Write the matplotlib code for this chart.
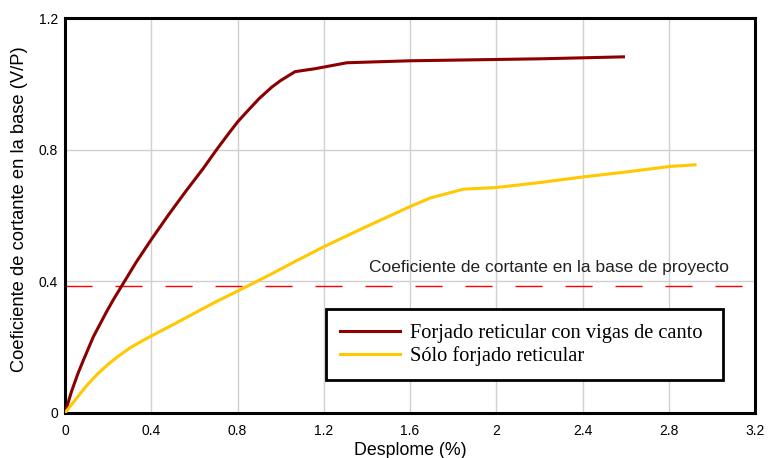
import matplotlib
matplotlib.use("Agg")
import matplotlib.pyplot as plt
from matplotlib.lines import Line2D

# Data
x_vigas = [0, 0.03, 0.06, 0.085, 0.131, 0.193, 0.224, 0.263, 0.33, 0.399, 0.48, 0.564, 0.64, 0.703, 0.76, 0.80,
           0.843, 0.90, 0.959, 1.0, 1.067, 1.16, 1.307, 1.45, 1.60, 1.80, 2.0, 2.2, 2.40, 2.59]
y_vigas = [0, 0.065, 0.12, 0.16, 0.231, 0.308, 0.344, 0.386, 0.458, 0.526, 0.602, 0.677, 0.742, 0.80, 0.85, 0.884,
           0.915, 0.955, 0.99, 1.01, 1.037, 1.046, 1.064, 1.067, 1.070, 1.072, 1.074, 1.076, 1.079, 1.082]

x_solo = [0, 0.05, 0.10, 0.15, 0.20, 0.25, 0.30, 0.35, 0.40, 0.50, 0.60, 0.70, 0.827, 0.95, 1.075, 1.20, 1.40,
          1.60, 1.693, 1.848, 2.0, 2.2, 2.40, 2.6, 2.806, 2.922]
y_solo = [0, 0.042, 0.083, 0.118, 0.148, 0.174, 0.197, 0.216, 0.234, 0.268, 0.303, 0.338, 0.379, 0.42, 0.463,
          0.505, 0.567, 0.627, 0.653, 0.680, 0.685, 0.700, 0.717, 0.732, 0.749, 0.754]

design_coef = 0.386

xticks = [0, 0.4, 0.8, 1.2, 1.6, 2.0, 2.4, 2.8, 3.2]
xticklabels = ["0", "0.4", "0.8", "1.2", "1.6", "2", "2.4", "2.8", "3.2"]
yticks = [0, 0.4, 0.8, 1.2]
yticklabels = ["0", "0.4", "0.8", "1.2"]

label_vigas = "Forjado reticular con vigas de canto"
label_solo = "Sólo forjado reticular"
annot = "Coeficiente de cortante en la base de proyecto"

c_vigas = "#8B0000"
c_solo = "#FFC800"

fig = plt.figure(figsize=(7.71, 4.58), dpi=100)
ax = fig.add_axes([65/771, 1-413/458, 690/771, 395/458])

ax.plot(x_vigas, y_vigas, color=c_vigas, lw=2.2, zorder=3, solid_joinstyle="round")
ax.plot(x_solo, y_solo, color=c_solo, lw=2.2, zorder=3, solid_joinstyle="round")
ax.axhline(design_coef, color="red", lw=1, dashes=(19.5, 16.5), zorder=2)

ax.set_xlim(0, 3.2)
ax.set_ylim(0, 1.2)
ax.set_xticks(xticks)
ax.set_xticklabels(xticklabels)
ax.set_yticks(yticks)
ax.set_yticklabels(yticklabels)
ax.tick_params(axis="x", length=0, labelsize=10, pad=8)
ax.tick_params(axis="y", length=0, labelsize=10, pad=5)
for lbl in ax.get_xticklabels() + ax.get_yticklabels():
    lbl.set_family("Liberation Sans")
ax.grid(True, color="#d0d0d0", lw=1)
ax.set_axisbelow(True)
for s in ax.spines.values():
    s.set_linewidth(2.2)
    s.set_color("black")

ax.set_xlabel("Desplome (%)", family="Liberation Sans", fontsize=12.8, labelpad=3)
ax.set_ylabel("Coeficiente de cortante en la base (V/P)", family="Liberation Sans", fontsize=13.2)
ax.yaxis.set_label_coords(-0.054, 0.515)

ax.text(1.41, 0.428, annot, family="Liberation Sans", fontsize=12.5, ha="left", va="baseline",
        color="#222222", zorder=4)

handles = [Line2D([], [], color=c_vigas, lw=2.2), Line2D([], [], color=c_solo, lw=2.2)]
leg = ax.legend(handles, [label_vigas, label_solo], loc="upper left",
                bbox_to_anchor=(0.378, 0.263, 0.576, 0.0), mode="expand",
                prop={"family": "Liberation Serif", "size": 14.7}, frameon=True, fancybox=False,
                edgecolor="black", framealpha=1, borderpad=0.7, handlelength=2.93,
                labelspacing=0.17, handletextpad=0.5, borderaxespad=0)
leg.get_frame().set_linewidth(2.0)

fig.savefig("out.png", dpi=100)
